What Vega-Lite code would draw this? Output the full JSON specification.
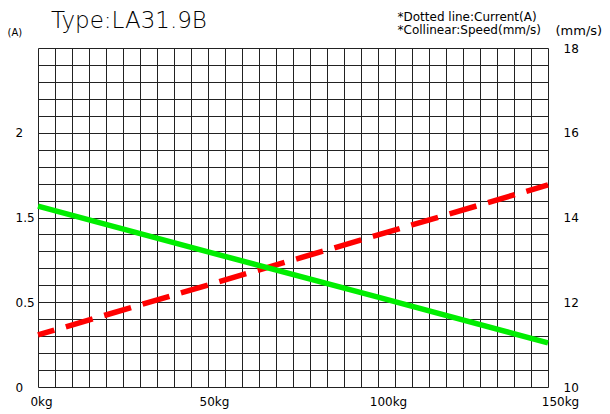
{
  "$schema": "https://vega.github.io/schema/vega-lite/v6.json",
  "width": 510,
  "height": 339,
  "autosize": {"type": "none"},
  "padding": {"left": 38, "top": 48, "right": 62, "bottom": 27},
  "background": "white",
  "config": {"view": {"stroke": null}, "font": "DejaVu Sans"},
  "title": {
    "text": "Type:LA31.9B",
    "anchor": "start",
    "frame": "group",
    "dx": 13,
    "offset": -41,
    "baseline": "alphabetic",
    "fontSize": 23,
    "font": "DejaVu Sans",
    "fontWeight": 300,
    "color": "#000000"
  },
  "datasets": {
    "current": [
      {"load_kg": 0, "current_A": 0.307},
      {"load_kg": 50, "current_A": 0.602},
      {"load_kg": 100, "current_A": 0.897},
      {"load_kg": 150, "current_A": 1.192}
    ],
    "speed": [
      {"load_kg": 0, "speed_mms": 14.27},
      {"load_kg": 50, "speed_mms": 13.19},
      {"load_kg": 100, "speed_mms": 12.12},
      {"load_kg": 150, "speed_mms": 11.04}
    ]
  },
  "layer": [
    {
      "data": {"name": "current"},
      "mark": {"type": "line", "color": "#ff0000", "strokeWidth": 5.5, "strokeDash": [28, 12], "strokeDashOffset": 11, "strokeCap": "butt"},
      "encoding": {
        "x": {
          "field": "load_kg",
          "type": "quantitative",
          "scale": {"domain": [0, 150], "nice": false},
          "axis": {
            "orient": "bottom",
            "title": null,
            "values": [0,5,10,15,20,25,30,35,40,45,50,55,60,65,70,75,80,85,90,95,100,105,110,115,120,125,130,135,140,145,150],
            "grid": true,
            "gridColor": "#222222",
            "gridWidth": 1,
            "gridOpacity": 1,
            "ticks": false,
            "tickSize": 0,
            "domain": false,
            "labelExpr": "datum.value % 50 === 0 ? datum.value + 'kg' : ''",
            "labelPadding": 9,
            "labelFontSize": 12,
            "labelColor": "#000000",
            "labelOverlap": false,
            "labelFlush": false,
            "labelBound": false,
            "labelOffset": {
              "condition": [
                {"test": "datum.value === 50", "value": 6},
                {"test": "datum.value === 100", "value": 10},
                {"test": "datum.value === 150", "value": 12}
              ],
              "value": 3
            }
          }
        },
        "y": {
          "field": "current_A",
          "type": "quantitative",
          "scale": {"domain": [0, 2], "nice": false, "zero": true},
          "axis": {
            "orient": "left",
            "title": "(A)",
            "titleAngle": 0,
            "titleX": -31,
            "titleY": -16,
            "titleAlign": "left",
            "titleBaseline": "middle",
            "titleFontSize": 10,
            "titleFontWeight": "normal",
            "titleColor": "#000000",
            "values": [0,0.1,0.2,0.3,0.4,0.5,0.6,0.7,0.8,0.9,1,1.1,1.2,1.3,1.4,1.5,1.6,1.7,1.8,1.9,2],
            "grid": true,
            "gridColor": "#222222",
            "gridWidth": 1,
            "gridOpacity": 1,
            "ticks": false,
            "tickSize": 0,
            "domain": false,
            "labelExpr": "abs(datum.value) < 0.01 ? '0' : abs(datum.value - 0.5) < 0.01 ? '0.5' : abs(datum.value - 1) < 0.01 ? '1.5' : abs(datum.value - 1.5) < 0.01 ? '2' : ''",
            "labelAlign": "left",
            "labelBaseline": "middle",
            "labelPadding": 23,
            "labelFontSize": 12,
            "labelColor": "#000000",
            "labelOverlap": false,
            "labelFlush": false,
            "labelBound": false
          }
        }
      }
    },
    {
      "data": {"name": "speed"},
      "mark": {"type": "line", "color": "#00ee00", "strokeWidth": 5.5},
      "encoding": {
        "x": {
          "field": "load_kg",
          "type": "quantitative",
          "scale": {"domain": [0, 150], "nice": false},
          "axis": {
            "orient": "top",
            "title": ["*Dotted  line:Current(A)", "*Collinear:Speed(mm/s)"],
            "titleX": 359,
            "titleY": -28,
            "titleAlign": "left",
            "titleBaseline": "alphabetic",
            "titleLineHeight": 13.5,
            "titleFontSize": 12,
            "titleFontWeight": "normal",
            "titleColor": "#000000",
            "labels": false,
            "ticks": false,
            "domain": false,
            "grid": false
          }
        },
        "y": {
          "field": "speed_mms",
          "type": "quantitative",
          "scale": {"domain": [10, 18], "nice": false, "zero": false},
          "axis": {
            "orient": "right",
            "title": "(mm/s)",
            "titleAngle": 0,
            "titleX": 7,
            "titleY": -18,
            "titleAlign": "left",
            "titleBaseline": "middle",
            "titleFontSize": 13,
            "titleFontWeight": "normal",
            "titleColor": "#000000",
            "values": [10, 12, 14, 16, 18],
            "grid": false,
            "ticks": false,
            "tickSize": 0,
            "domain": false,
            "labelAlign": "left",
            "labelBaseline": "middle",
            "labelPadding": 15,
            "labelFontSize": 12,
            "labelColor": "#000000",
            "labelFlush": false,
            "labelBound": false
          }
        }
      }
    }
  ],
  "resolve": {"scale": {"y": "independent"}, "axis": {"x": "independent"}}
}
